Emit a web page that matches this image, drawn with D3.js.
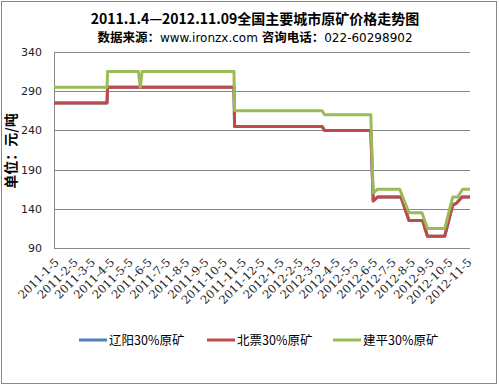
<!DOCTYPE html>
<html><head><meta charset="utf-8">
<script src="https://cdn.jsdelivr.net/npm/d3@7"></script>
<style>body{margin:0;background:#fff;}svg{display:block;}</style>
</head><body>
<svg id="c" width="499" height="387"></svg>
<script>
const seriesNames = ["辽阳30%原矿","北票30%原矿","建平30%原矿"];
const seriesColors = ["#4F81BD","#BE4B48","#9BBB59"];
const yTicks = [90,140,190,240,290,340];
const xTickLabels = ["2011-1-5","2011-2-5","2011-3-5","2011-4-5","2011-5-5","2011-6-5","2011-7-5","2011-8-5","2011-9-5","2011-10-5","2011-11-5","2011-12-5","2012-1-5","2012-2-5","2012-3-5","2012-4-5","2012-5-5","2012-6-5","2012-7-5","2012-8-5","2012-9-5","2012-10-5","2012-11-5"];
// 北票 (and 辽阳, hidden beneath)
const beipiaoDates = ["2011-01-04","2011-03-31","2011-04-01","2011-10-23","2011-10-24","2012-03-14","2012-03-18","2012-06-01","2012-06-05","2012-06-12","2012-07-20","2012-08-02","2012-08-24","2012-09-01","2012-09-29","2012-10-12","2012-10-18","2012-10-27","2012-11-09"];
const beipiaoValues = [275,275,295,295,245,245,240,240,150,155,155,125,125,105,105,145,147,155,155];
const liaoyangDates = beipiaoDates;
const liaoyangValues = beipiaoValues;
// 建平
const jianpingDates = ["2011-01-04","2011-03-31","2011-04-01","2011-05-21","2011-05-24","2011-05-27","2011-10-23","2011-10-24","2012-03-14","2012-03-18","2012-06-01","2012-06-05","2012-06-12","2012-07-18","2012-08-02","2012-08-23","2012-09-01","2012-09-29","2012-10-12","2012-10-20","2012-10-28","2012-11-09"];
const jianpingValues = [295,295,315,315,295,315,315,265,265,260,260,160,165,165,135,135,115,115,155,155,165,165];

const parse = d3.timeParse("%Y-%m-%d");
const svg = d3.select("#c");
const L = 54, R = 470, T = 52, B = 248;
const x = d3.scaleTime().domain([parse("2011-01-04"), parse("2012-11-09")]).range([L, R]);
const y = d3.scaleLinear().domain([90, 340]).range([B, T]);

svg.append("rect").attr("x",1.5).attr("y",1.5).attr("width",495).attr("height",382)
  .attr("fill","#fff").attr("stroke","#868686").attr("stroke-width",1);

// titles
svg.append("text").attr("x",255).attr("y",24).attr("text-anchor","middle")
  .attr("font-family","'Noto Sans CJK SC', sans-serif").attr("font-weight","bold").attr("font-size",14).attr("fill","#000")
  .text("2011.1.4—2012.11.09全国主要城市原矿价格走势图");
const sub = svg.append("text").attr("x",255).attr("y",42).attr("text-anchor","middle")
  .attr("font-family","'Noto Sans CJK SC', sans-serif").attr("font-size",12.5).attr("fill","#000");
sub.append("tspan").attr("font-weight","bold").text("数据来源：");
sub.append("tspan").attr("font-family","'DejaVu Sans', sans-serif").attr("font-size",12).text("www.ironzx.com ");
sub.append("tspan").attr("font-weight","bold").text("咨询电话：");
sub.append("tspan").attr("font-family","'DejaVu Sans', sans-serif").attr("font-size",12).text("022-60298902");

// grid
svg.append("g").selectAll("line").data(yTicks).join("line")
  .attr("x1",L).attr("x2",R).attr("y1",d=>Math.round(y(d))+0.5).attr("y2",d=>Math.round(y(d))+0.5)
  .attr("stroke","#868686").attr("stroke-width",1);
svg.append("line").attr("x1",L+0.5).attr("x2",L+0.5).attr("y1",T).attr("y2",B+0.5).attr("stroke","#868686");

// y axis labels
svg.append("g").selectAll("text").data(yTicks).join("text")
  .attr("x",42).attr("y",d=>y(d)+4).attr("text-anchor","end")
  .attr("font-family","'DejaVu Sans', sans-serif").attr("font-size",11).attr("fill","#222").text(d=>d);

svg.append("text").attr("transform","translate(16,151) rotate(-90)").attr("text-anchor","middle")
  .attr("font-family","'Noto Sans CJK SC', sans-serif").attr("font-weight","bold").attr("font-size",14).attr("fill","#000")
  .text("单位：元/吨");

// x labels
const tickDates = xTickLabels.map(s => { const p = s.split("-"); return new Date(+p[0], +p[1]-1, +p[2]); });
svg.append("g").selectAll("text").data(xTickLabels).join("text")
  .attr("transform",(d,i)=>`translate(${x(tickDates[i])+5},${B+15}) rotate(-45)`)
  .attr("text-anchor","end")
  .attr("font-family","'DejaVu Serif', serif").attr("font-size",11.5).attr("fill","#222").text(d=>d);

// lines
const line = d3.line().x(d=>x(d[0])).y(d=>y(d[1]));
const mk = (ds, vs) => ds.map((d,i)=>[parse(d), vs[i]]);
const all = [mk(liaoyangDates, liaoyangValues), mk(beipiaoDates, beipiaoValues), mk(jianpingDates, jianpingValues)];
svg.append("g").selectAll("path").data(all).join("path")
  .attr("d", line).attr("fill","none").attr("stroke",(d,i)=>seriesColors[i])
  .attr("stroke-width",3).attr("stroke-linejoin","round");

// legend
const lx = [79, 207, 333];
const lg = svg.append("g").selectAll("g").data(seriesNames).join("g").attr("transform",(d,i)=>`translate(${lx[i]},340)`);
lg.append("line").attr("x1",0).attr("x2",28).attr("y1",0).attr("y2",0).attr("stroke",(d,i)=>seriesColors[i]).attr("stroke-width",3);
lg.append("text").attr("x",30).attr("y",5).attr("font-family","'Noto Sans CJK SC', sans-serif").attr("font-size",12.5).attr("fill","#000").text(d=>d);
</script>
</body></html>
